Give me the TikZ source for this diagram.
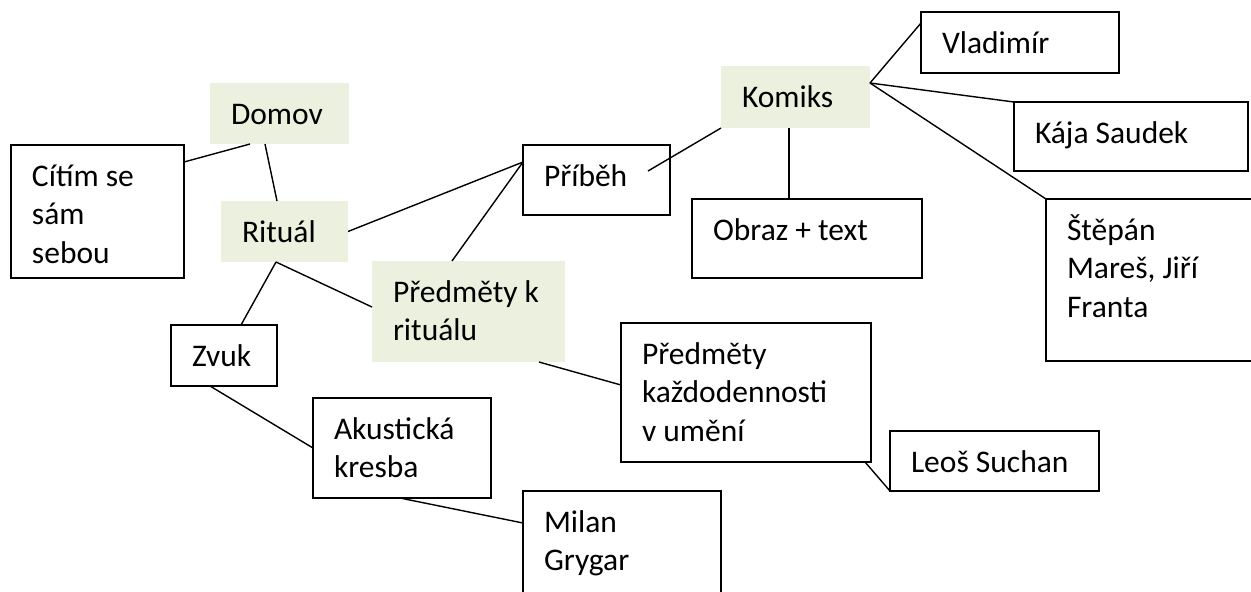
\documentclass[tikz,border=0pt]{standalone}
\usepackage{fontspec}
\setmainfont{Carlito}
\usetikzlibrary{calc}
\definecolor{boxgreen}{HTML}{EBF1DE}
\newcommand\fs{\fontsize{15.75pt}{19.25pt}\selectfont}
% #1 style, #2 name, #3 x, #4 y, #5 width, #6 height, #7 text
\newcommand\mkbox[7]{%
  \node[#1, minimum width={#5*0.5pt}, minimum height={#6*0.5pt}] (#2) at (#3,#4) {};
  \node[txt] (#2-t) at ($(#2.north west)+(21,41)$) {\parbox[t]{200pt}{\fs\raggedright #7}};
}
\tikzset{
  box/.style={draw=black, line width=0.8pt, fill=white, inner sep=0pt, outer sep=0pt, anchor=north west},
  greenbox/.style={draw=none, fill=boxgreen, inner sep=0pt, outer sep=0pt, anchor=north west},
  txt/.style={inner sep=0pt, outer sep=0pt, anchor=base west},
  link/.style={draw=black, line width=0.7pt}
}
\begin{document}
\begin{tikzpicture}[x=0.5pt, y=-0.5pt]
\useasboundingbox (0,0) rectangle (1251,591);
\fill[white] (0,0) rectangle (1251,591);

% boxes
\mkbox{greenbox}{domov}{210}{83}{139}{61}{Domov}
\mkbox{box}{citim}{11}{145}{173}{133}{Cítím se\\sám\\sebou}
\mkbox{greenbox}{ritual}{221}{201}{127}{61}{Rituál}
\mkbox{box}{pribeh}{523}{145}{147}{70}{Příběh}
\mkbox{greenbox}{komiks}{721}{66}{149}{62}{Komiks}
\mkbox{box}{obraz}{692}{199}{230}{79}{Obraz + text}
\mkbox{box}{vlad}{921}{12}{198}{61}{Vladimír}
\mkbox{box}{kaja}{1014}{102}{234}{69}{Kája Saudek}
\mkbox{box}{stepan}{1046}{199}{208}{162}{Štěpán\\Mareš, Jiří\\Franta}
\mkbox{greenbox}{pkr}{372}{261}{193}{101}{Předměty k\\rituálu}
\mkbox{box}{zvuk}{171}{325}{106}{61}{Zvuk}
\mkbox{box}{akust}{313}{398}{178}{100}{Akustická\\kresba}
\mkbox{box}{milan}{523}{491}{198}{112}{Milan\\Grygar}
\mkbox{box}{pku}{621}{323}{250}{139}{Předměty\\každodennosti\\v umění}
\mkbox{box}{leos}{890}{431}{209}{60}{Leoš Suchan}

\coordinate (hub) at ($(komiks.north east)+(0,17)$);

% connectors
\draw[link] ($(citim.north east)+(0,17)$) -- ($(domov.south west)+(40,0)$);
\draw[link] ($(domov.south west)+(55,0)$) -- ($(ritual.north west)+(56,0)$);
\draw[link] (ritual.east) -- ($(pribeh.north west)+(0,17)$);
\draw[link] ($(pkr.north west)+(80,0)$) -- ($(pribeh.north west)+(0,17)$);
\draw[link] ($(pribeh.north west)+(125,26)$) -- (komiks.south west);
\draw[link] ($(komiks.south west)+(68,0)$) -- ($(obraz.north west)+(97,0)$);
\draw[link] (hub) -- ($(vlad.north west)+(0,11)$);
\draw[link] (hub) -- (kaja.north west);
\draw[link] (hub) -- (stepan.north west);
\draw[link] ($(ritual.south west)+(55,0)$) -- ($(zvuk.north west)+(70,0)$);
\draw[link] ($(ritual.south west)+(55,0)$) -- ($(pkr.north west)+(0,46)$);
\draw[link] ($(zvuk.south west)+(39,0)$) -- (akust.west);
\draw[link] ($(akust.south west)+(87,0)$) -- ($(milan.north west)+(0,32)$);
\draw[link] ($(pkr.south west)+(167,0)$) -- ($(pku.north west)+(0,62)$);
\draw[link] ($(pku.south east)+(-6,0)$) -- (leos.south west);
\end{tikzpicture}
\end{document}
